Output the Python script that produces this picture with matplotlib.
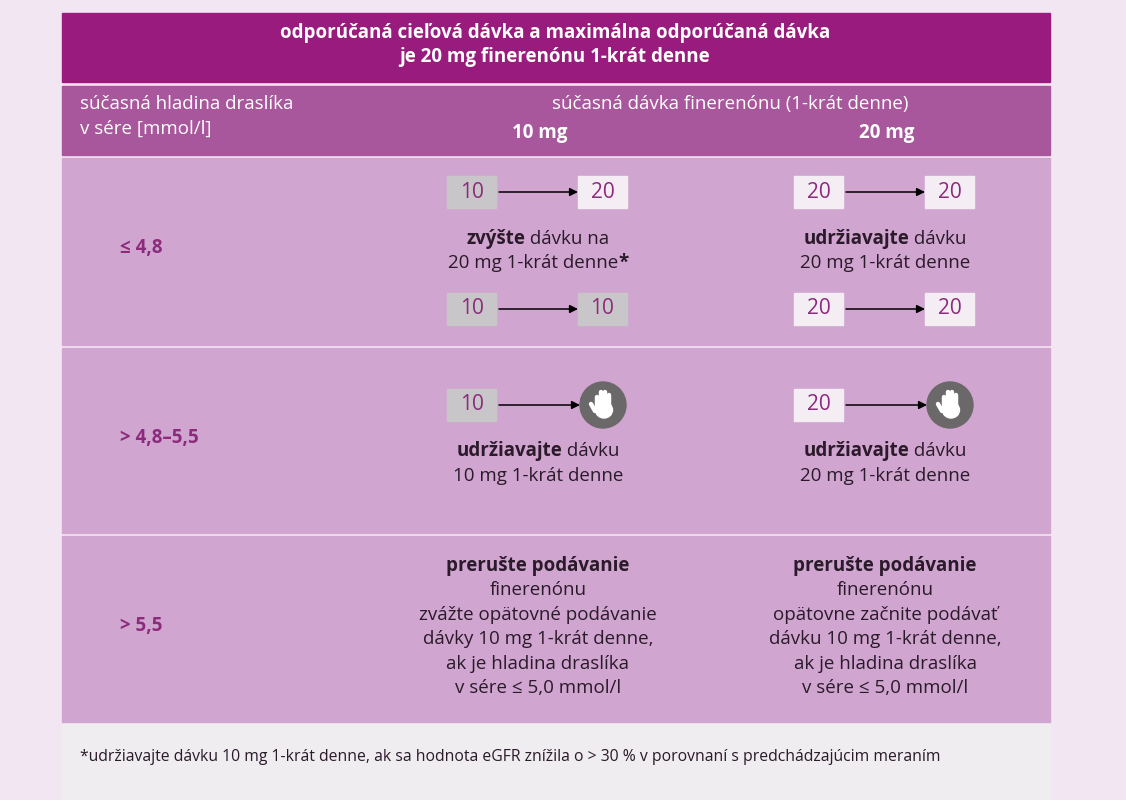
import matplotlib.pyplot as plt
from matplotlib.patches import Rectangle, Circle, Ellipse

plt.rcParams['font.family'] = ['Open Sans', 'DejaVu Sans']

# ---- content ----
title_lines = ["odporúčaná cieľová dávka a maximálna odporúčaná dávka",
               "je 20 mg finerenónu 1-krát denne"]
left_header = ["súčasná hladina draslíka", "v sére [mmol/l]"]
dose_header = "súčasná dávka finerenónu (1-krát denne)"
dose_cols = ["10 mg", "20 mg"]
row_labels = ["≤ 4,8", "> 4,8–5,5", "> 5,5"]

# arrow transitions per row/column: (from, to) ; to=None means stop
row1_top = [("10", "20"), ("20", "20")]
row1_bottom = [("10", "10"), ("20", "20")]
row2_arrows = [("10", None), ("20", None)]

# text lines: list of segments (text, bold)
row1_text = [
    [[("zvýšte", True), (" dávku na", False)], [("20 mg 1-krát denne", False), ("*", True)]],
    [[("udržiavajte", True), (" dávku", False)], [("20 mg 1-krát denne", False)]],
]
row2_text = [
    [[("udržiavajte", True), (" dávku", False)], [("10 mg 1-krát denne", False)]],
    [[("udržiavajte", True), (" dávku", False)], [("20 mg 1-krát denne", False)]],
]
row3_text = [
    [[("prerušte podávanie", True)], [("finerenónu", False)], [("zvážte opätovné podávanie", False)],
     [("dávky 10 mg 1-krát denne,", False)], [("ak je hladina draslíka", False)], [("v sére ≤ 5,0 mmol/l", False)]],
    [[("prerušte podávanie", True)], [("finerenónu", False)], [("opätovne začnite podávať", False)],
     [("dávku 10 mg 1-krát denne,", False)], [("ak je hladina draslíka", False)], [("v sére ≤ 5,0 mmol/l", False)]],
]
footnote = "*udržiavajte dávku 10 mg 1-krát denne, ak sa hodnota eGFR znížila o > 30 % v porovnaní s predchádzajúcim meraním"

# ---- style ----
BG = "#f3e6f3"
TITLE_BG = "#9a1b7e"
SUB_BG = "#a8579c"
ROW_BG = "#d0a6d0"
FOOT_BG = "#efedef"
PURPLE = "#8c2a7c"
DARK = "#2a1a2a"
BOX = {"10": "#c9c6c9", "20": "#f4eef4"}

fig = plt.figure(figsize=(11.26, 8), dpi=100)
fig.patch.set_facecolor(BG)
ax = fig.add_axes([0, 0, 1, 1])
ax.set_xlim(0, 1126)
ax.set_ylim(800, 0)
ax.axis("off")

X0, X1 = 62, 1050
ax.add_patch(Rectangle((X0, 13), X1 - X0, 69, color=TITLE_BG))
ax.add_patch(Rectangle((X0, 86), X1 - X0, 69, color=SUB_BG))
rows_y = [(158, 345), (348, 533), (536, 722)]
for y0, y1 in rows_y:
    ax.add_patch(Rectangle((X0, y0), X1 - X0, y1 - y0, color=ROW_BG))
ax.add_patch(Rectangle((X0, 724), X1 - X0, 76, color=FOOT_BG))

for i, t in enumerate(title_lines):
    ax.text(555, 33 + 24 * i, t, color="white", fontsize=13.5, fontweight="bold",
            ha="center", va="center")
for i, t in enumerate(left_header):
    ax.text(80, 104 + 25 * i, t, color="white", fontsize=13.5, va="center")
ax.text(730, 104, dose_header, color="white", fontsize=13.5, ha="center", va="center")
col_x = [538, 885]
for cx, t in zip(col_x, dose_cols):
    ax.text(cx + 2, 133, t, color="white", fontsize=13.5, fontweight="bold", ha="center", va="center")

for (y0, y1), lab in zip(rows_y, row_labels):
    ax.text(120, (y0 + y1) / 2 - 3, lab, color=PURPLE, fontsize=13.5, fontweight="bold", va="center")

fig.canvas.draw()
renderer = fig.canvas.get_renderer()


def rich_line(cx, y, segs, size=13.5):
    # draw mixed bold/regular segments centered at cx
    objs = []
    for s, b in segs:
        objs.append(ax.text(0, y, s, fontsize=size, color=DARK, va="center",
                            fontweight="bold" if b else "normal"))
    widths = []
    for o in objs:
        bb = o.get_window_extent(renderer)
        widths.append(bb.width)
    x = cx - sum(widths) / 2
    for o, w in zip(objs, widths):
        o.set_x(x)
        x += w


def hand(cx, cy):
    ax.add_patch(Circle((cx, cy), 23, color="#6b6869", zorder=3))
    ax.add_patch(Ellipse((cx + 1, cy + 5), 17, 16, color="white", zorder=4))
    for dx, top in [(-6, -8), (-2, -13), (2, -13), (6, -10)]:
        ax.plot([cx + dx, cx + dx], [cy + 3, cy + top], color="white", lw=3.2,
                solid_capstyle="round", zorder=4)
    ax.plot([cx - 8, cx - 12], [cy + 6, cy - 1], color="white", lw=3.2,
            solid_capstyle="round", zorder=4)


def transition(cx, y, frm, to):
    bx0 = cx - 91
    ax.add_patch(Rectangle((bx0, y - 16), 49, 32, color=BOX[frm]))
    ax.text(bx0 + 24.5, y, frm, color=PURPLE, fontsize=15, ha="center", va="center")
    x_end = cx + 40 if to is not None else cx + 42
    ax.annotate("", xy=(x_end, y), xytext=(bx0 + 52, y),
                arrowprops=dict(arrowstyle="-|>", color="black", lw=1.1, mutation_scale=12,
                                shrinkA=0, shrinkB=0))
    if to is None:
        hand(cx + 65, y)
    else:
        ax.add_patch(Rectangle((cx + 40, y - 16), 49, 32, color=BOX[to]))
        ax.text(cx + 64.5, y, to, color=PURPLE, fontsize=15, ha="center", va="center")


for c, cx in enumerate(col_x):
    transition(cx, 192, *row1_top[c])
    transition(cx, 309, *row1_bottom[c])
    for i, segs in enumerate(row1_text[c]):
        rich_line(cx, 239 + 24 * i, segs)
    transition(cx, 405, *row2_arrows[c])
    for i, segs in enumerate(row2_text[c]):
        rich_line(cx, 451 + 25 * i, segs)
    for i, segs in enumerate(row3_text[c]):
        rich_line(cx, 566 + 24.4 * i, segs)

ax.text(80, 757, footnote, fontsize=11.3, color=DARK, va="center")

fig.savefig("out.png", dpi=100, facecolor=BG)
